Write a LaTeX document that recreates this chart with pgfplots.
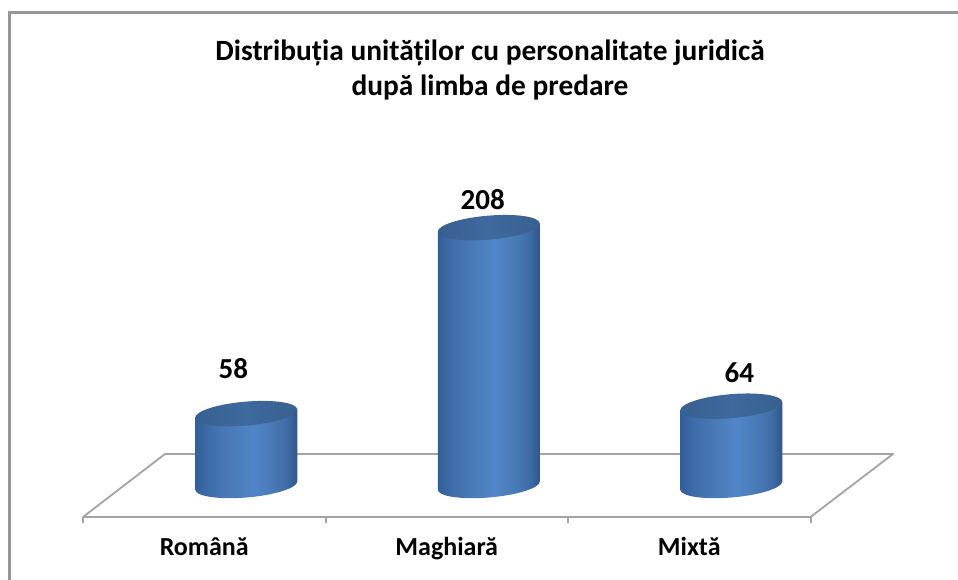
\documentclass[border=0pt]{standalone}
\usepackage{pgfplots}
\pgfplotsset{compat=1.18}
\usepackage{fontspec}
\setmainfont{Carlito}
\usetikzlibrary{shadings}
\definecolor{gridc}{HTML}{A4A4A4}
\definecolor{framec}{HTML}{969696}
\definecolor{ca}{HTML}{335F98}
\definecolor{cb}{HTML}{3F6EAA}
\definecolor{cc}{HTML}{4A7BB8}
\definecolor{cd}{HTML}{5085C8}
\definecolor{ce}{HTML}{4A7BB8}
\definecolor{cf}{HTML}{3F6CA6}
\definecolor{cg}{HTML}{30568A}
\definecolor{ch}{HTML}{38608F}
\definecolor{ci}{HTML}{3F6A9E}
\pgfdeclarehorizontalshading{cyl}{100bp}{
  color(0bp)=(ca);color(25bp)=(ca);
  color(32bp)=(cb);color(42bp)=(cc);
  color(53bp)=(cd);color(62bp)=(ce);
  color(70bp)=(cf);color(75bp)=(cg);color(100bp)=(cg)}
\pgfdeclarehorizontalshading{capc}{100bp}{
  color(0bp)=(ch);color(25bp)=(ch);
  color(50bp)=(ci);color(75bp)=(ch);color(100bp)=(ch)}
\pgfdeclareplotmark{cylbase}{\pgfpathellipse{\pgfqpoint{42pt}{0pt}}{\pgfqpoint{51pt}{4.08pt}}{\pgfqpoint{0pt}{12pt}}\pgfshadepath{cyl}{0}\pgfusepath{discard}}
\pgfdeclareplotmark{cyltop}{\pgfpathellipse{\pgfqpoint{42pt}{0pt}}{\pgfqpoint{51pt}{4.08pt}}{\pgfqpoint{0pt}{12pt}}\pgfshadepath{capc}{0}\pgfusepath{discard}}
\pgfplotsset{cylbar/.style={ybar,bar width=102pt,bar shift=42pt,draw=none,shade,shading=cyl,
  nodes near coords,nodes near coords align={anchor=center}}}
\begin{document}
\begin{tikzpicture}[x=1pt,y=1pt]
\useasboundingbox (-83pt,-63pt) rectangle (875pt,517pt);
\fill[white] (-83pt,-63pt) rectangle (875pt,517pt);
% outer frame
\draw[framec,line width=2.6pt] (-73.5pt,-63pt) -- (-73.5pt,504.5pt) -- (875pt,504.5pt);
% floor
\draw[gridc,line width=1.8pt,line join=round] (0pt,0pt) -- (82pt,63pt) -- (810pt,63pt) -- (727.5pt,0pt);
% title
\node[font=\bfseries\fontsize{29.4}{35}\selectfont,align=center] at (407pt,446.5pt)
  {Distribuția unităților cu personalitate juridică\\după limba de predare};
\begin{axis}[
  at={(0pt,0pt)},anchor=south west,
  scale only axis,width=727.5pt,height=505pt,
  xmin=-0.5,xmax=2.5,ymin=-25.4,ymax=381.9,
  axis y line=none,axis x line=bottom,
  axis line style={-,gridc,line width=2pt},
  clip=false,
  /pgf/number format/assume math mode=true,
  xtick={-0.5,0.5,1.5,2.5},xticklabels={},
  extra x ticks={0,1,2},
  extra x tick labels={Română,Maghiară,Mixtă},
  extra x tick style={major tick length=0pt},
  x tick style={gridc,line width=2pt},
  tick align=outside,major tick length=6pt,
  xticklabel style={font=\bfseries\fontsize{26}{30}\selectfont,yshift=-17pt,text=black,text height=18pt,text depth=6pt},
]
\addplot[only marks,mark=cylbase] coordinates {(0,0) (1,0) (2,0)};
\addplot[cylbar,cm={1,0.08,0,1,(0pt,-13.04pt)},nodes near coords style={xshift=29pt,yshift=48pt,font=\bfseries\fontsize{29}{32}\selectfont,text=black}] coordinates {(0,58)};
\addplot[cylbar,cm={1,0.08,0,1,(0pt,-32.4pt)},nodes near coords style={xshift=36pt,yshift=31pt,font=\bfseries\fontsize{29}{32}\selectfont,text=black}] coordinates {(1,208)};
\addplot[cylbar,cm={1,0.08,0,1,(0pt,-51.84pt)},nodes near coords style={xshift=50pt,yshift=37pt,font=\bfseries\fontsize{29}{32}\selectfont,text=black}] coordinates {(2,64)};
\addplot[only marks,mark=cyltop] coordinates {(0,58) (1,208) (2,64)};
\end{axis}
\end{tikzpicture}
\end{document}
